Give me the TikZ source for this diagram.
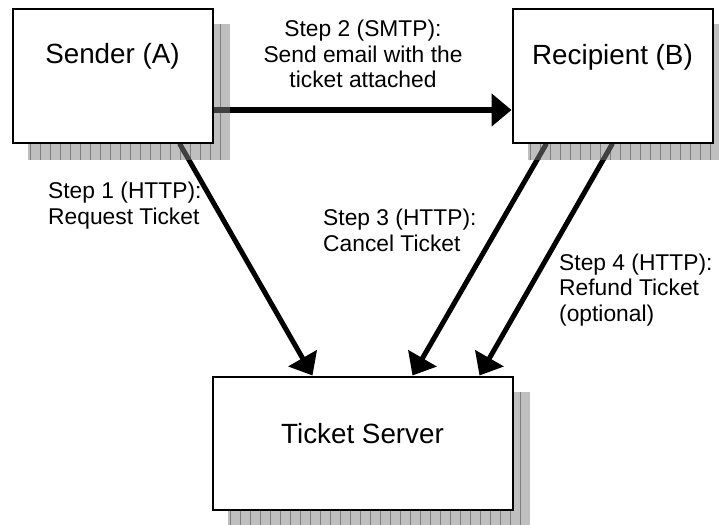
\documentclass[tikz,border=0pt]{standalone}
\usepackage{fontspec}
\setmainfont{Liberation Sans}
\usetikzlibrary{arrows.meta,calc}
\pgfdeclarelayer{arrowlayer}
\pgfdeclarelayer{shadowlayer}
\pgfsetlayers{arrowlayer,shadowlayer,main}
\begin{document}
\begin{tikzpicture}[x=1pt,y=-1pt,
  box/.style={draw=black, line width=2pt, fill=white,
    minimum width=200pt, minimum height=133pt, inner sep=0pt,
    font=\fontsize{27.8}{32}\selectfont},
  flow/.style={line width=5pt, -{Triangle[length=20pt,width=32pt]}},
  steplabel/.style={font=\fontsize{22.8}{25.5}\selectfont, inner sep=0pt},
  shadowfill/.style={fill=black!50, fill opacity=0.5},
  shadowgrid/.style={draw=black!75, draw opacity=0.5, line width=1pt}]

\clip (0,0) rectangle (719,524);

% boxes
\node[box, text height=20pt, text depth=44pt] (A) at (112.5,76) {Sender (A)};
\node[box, text height=20pt, text depth=42pt] (B) at (612.5,76) {Recipient (B)};
\node[box, minimum width=300pt, text height=20pt, text depth=20pt] (S) at (362.5,443) {Ticket Server};

% drop shadows, hatched with a fine grid
\begin{pgfonlayer}{shadowlayer}
  \foreach \n in {A,B,S} {
    \fill[shadowfill] ([shift={(16,16)}]\n.north west) rectangle ([shift={(16,16)}]\n.south east);
    \begin{scope}
      \clip ([shift={(16,16)}]\n.north west) rectangle ([shift={(16,16)}]\n.south east);
      \draw[shadowgrid, step=10] ([shift={(16,16)}]\n.north west) grid ([shift={(16,16)}]\n.south east);
    \end{scope}
  }
\end{pgfonlayer}

% message flows
\begin{pgfonlayer}{arrowlayer}
  \draw[flow] ([shift={(0,34)}]A.east) -- ([shift={(0,34)}]B.west);
  \draw[flow] ([shift={(168,0)}]A.south west) -- ([shift={(101,0)}]S.north west);
  \draw[flow] ([shift={(35,0)}]B.south west) -- ([shift={(201,0)}]S.north west);
  \draw[flow] ([shift={(101,0)}]B.south west) -- ([shift={(268,0)}]S.north west);
\end{pgfonlayer}

% step labels (anchored at the baseline of their last line)
\node[steplabel, align=center, anchor=base] (l2) at (363,88) {Step 2 (SMTP):\\Send email with the\\ticket attached};
\node[steplabel, align=left, anchor=base west] (l1) at (48,224) {Step 1 (HTTP):\\Request Ticket};
\node[steplabel, align=left, anchor=base west] (l3) at (323,251) {Step 3 (HTTP):\\Cancel Ticket};
\node[steplabel, align=left, anchor=base west] (l4) at (559,321) {Step 4 (HTTP):\\Refund Ticket\\(optional)};
\end{tikzpicture}
\end{document}
